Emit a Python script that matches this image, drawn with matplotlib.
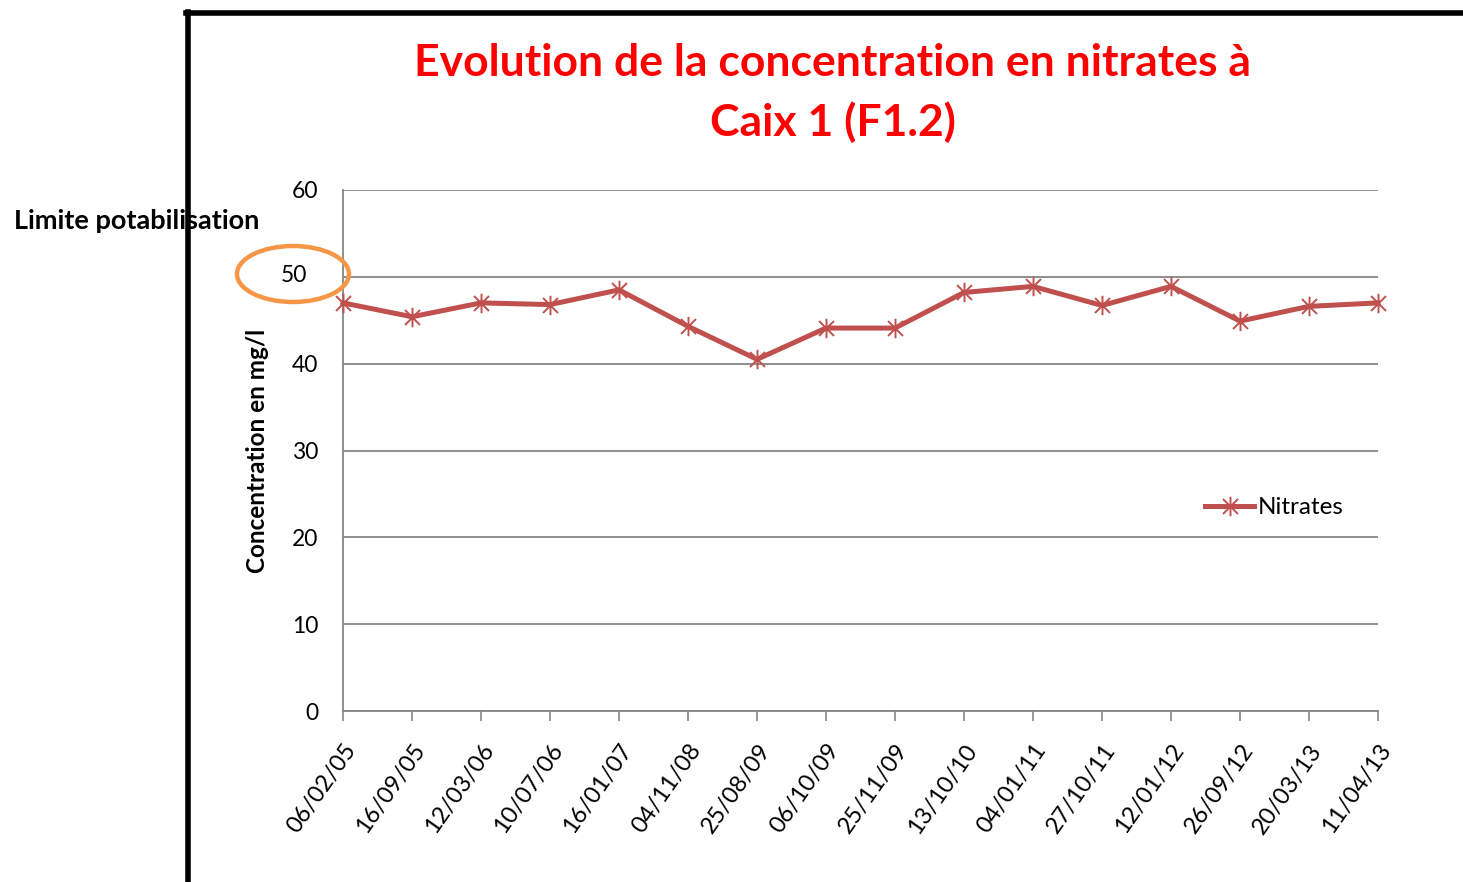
import matplotlib.pyplot as plt
from matplotlib.path import Path
from matplotlib.patches import Ellipse
from matplotlib.lines import Line2D

dates = ["06/02/05", "16/09/05", "12/03/06", "10/07/06", "16/01/07", "04/11/08",
         "25/08/09", "06/10/09", "25/11/09", "13/10/10", "04/01/11", "27/10/11",
         "12/01/12", "26/09/12", "20/03/13", "11/04/13"]
nitrates = [47.0, 45.4, 47.0, 46.8, 48.5, 44.3, 40.5, 44.1, 44.1, 48.2, 48.9, 46.7,
            48.9, 44.9, 46.6, 47.0]
yticks = [0, 10, 20, 30, 40, 50, 60]

plt.rcParams["font.family"] = ["Lato", "DejaVu Sans"]

red = "#C0504D"
W, H = 1463, 882

# asterisk marker: X plus a vertical bar
star = Path([(-1, -1), (1, 1), (-1, 1), (1, -1), (0, -1.3), (0, 1.3)],
            [Path.MOVETO, Path.LINETO, Path.MOVETO, Path.LINETO, Path.MOVETO, Path.LINETO])

fig = plt.figure(figsize=(W / 100, H / 100), dpi=100)
ax = fig.add_axes([343 / W, 1 - 711 / H, (1378 - 343) / W, (711 - 190) / H])

x = list(range(len(dates)))
ax.plot(x, nitrates, color=red, linewidth=3.6, marker=star, markersize=14,
        markeredgewidth=1.4, markeredgecolor=red, label="Nitrates",
        clip_on=False, zorder=3)

ax.set_xlim(0, len(dates) - 1)
ax.set_ylim(0, 60)
ax.set_yticks(yticks)
ax.set_yticklabels(["" if v == 50 else str(v) for v in yticks])
ax.set_xticks(x)
ax.set_xticklabels(dates, rotation=55, ha="right", rotation_mode="anchor", fontsize=17)
ax.tick_params(axis="x", length=7, width=1.2, color="#868686", pad=14)
ax.tick_params(axis="y", length=0, pad=18, labelsize=16.5)
ax.grid(axis="y", color="#868686", linewidth=1.3)
ax.set_axisbelow(True)

for side in ["top", "right"]:
    ax.spines[side].set_visible(False)
for side in ["left", "bottom"]:
    ax.spines[side].set_color("#868686")
    ax.spines[side].set_linewidth(1.3)

ax.set_ylabel("Concentration en mg/l", fontsize=17.5, fontweight="bold", labelpad=16)

handle = Line2D([], [], color=red, linewidth=3.6, marker=star, markersize=14,
                markeredgewidth=1.4, markeredgecolor=red)
ax.legend([handle], ["Nitrates"], loc="center left", bbox_to_anchor=(0.812, 0.39),
          frameon=False, fontsize=17.5, handlelength=2.0, handletextpad=0.15)

fig.text(833 / W, 1 - 63 / H, "Evolution de la concentration en nitrates à",
         color="red", fontsize=32, fontweight="bold", ha="center", va="center")
fig.text(833 / W, 1 - 122 / H, "Caix 1 (F1.2)",
         color="red", fontsize=32, fontweight="bold", ha="center", va="center")

fig.text(14 / W, 1 - 221 / H, "Limite potabilisation", fontsize=19.5,
         fontweight="bold", ha="left", va="center")

# the 50 limit label, circled
fig.text(294 / W, 1 - 275 / H, "50", fontsize=16.5, ha="center", va="center")
fig.patches.append(Ellipse((293 / W, 1 - 274 / H), 112 / W, 56 / H, fill=False,
                           edgecolor="#F79646", linewidth=3.2,
                           transform=fig.transFigure, zorder=5))

# outer frame edges
fig.add_artist(Line2D([188 / W, 188 / W], [0, 1 - 12 / H], color="black",
                      linewidth=4, transform=fig.transFigure))
fig.add_artist(Line2D([186 / W, 1], [1 - 12.5 / H, 1 - 12.5 / H], color="black",
                      linewidth=4, transform=fig.transFigure))

fig.savefig("out.png", dpi=100)
